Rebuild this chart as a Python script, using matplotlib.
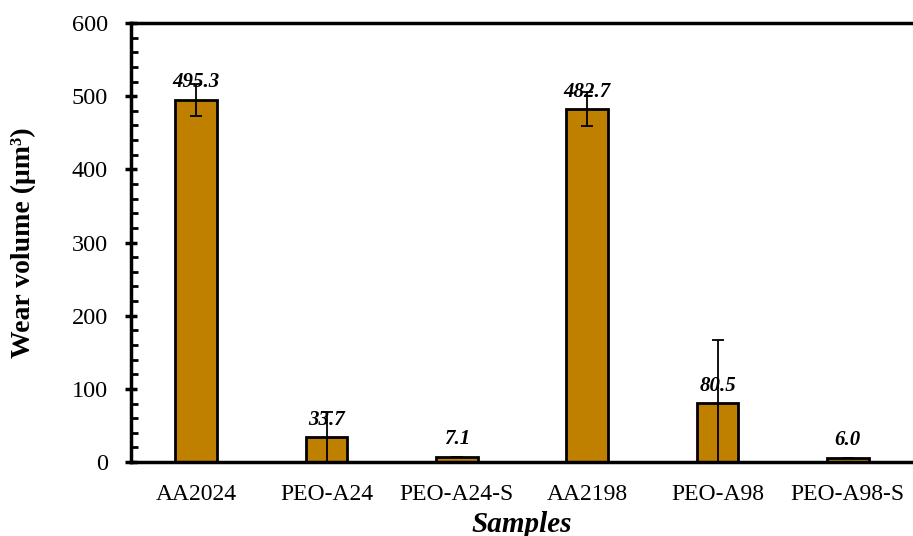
import matplotlib
matplotlib.use("Agg")
import matplotlib.pyplot as plt
from matplotlib.ticker import MultipleLocator

samples = ["AA2024", "PEO-A24", "PEO-A24-S", "AA2198", "PEO-A98", "PEO-A98-S"]
wear = [495.3, 33.7, 7.1, 482.7, 80.5, 6.0]
wear_err = [22, 34, 0, 23, 86, 0]
yticks = [0, 100, 200, 300, 400, 500, 600]

plt.rcParams["font.family"] = ["Liberation Serif", "DejaVu Serif"]

fig = plt.figure(figsize=(9.13, 5.36), dpi=100)
ax = fig.add_axes([0.1435, 0.138, 0.8565, 0.819])

x = range(len(samples))
ax.bar(x, wear, width=0.32, color="#BF8000", edgecolor="black", linewidth=2, zorder=2)
ax.errorbar(x, wear, yerr=wear_err, fmt="none", ecolor="black", elinewidth=1.3,
            capsize=4, capthick=1.3, zorder=3)

for xi, v in zip(x, wear):
    ax.annotate(f"{v:.1f}", (xi, v), xytext=(0, 12.5), textcoords="offset points",
                ha="center", va="center", fontsize=15, fontweight="bold",
                fontstyle="italic", zorder=4)

ax.set_xlim(-0.5, 5.5)
ax.set_ylim(0, 600)
ax.set_yticks(yticks)
ax.yaxis.set_minor_locator(MultipleLocator(20))
ax.set_xticks(list(x))
ax.set_xticklabels(samples)

ax.tick_params(axis="y", which="major", direction="inout", length=9, width=2.5,
               labelsize=17.5, pad=12)
ax.tick_params(axis="y", which="minor", direction="in", length=5, width=2)
ax.tick_params(axis="x", length=0, labelsize=17, pad=16)

for s in ["left", "top", "bottom"]:
    ax.spines[s].set_linewidth(2.5)
ax.spines["right"].set_visible(False)

ax.set_ylabel("Wear volume (μm³)", fontsize=20, fontweight="bold", labelpad=26)
ax.set_xlabel("Samples", fontsize=21, fontweight="bold", fontstyle="italic", labelpad=4)

fig.savefig("out.png", dpi=100)
